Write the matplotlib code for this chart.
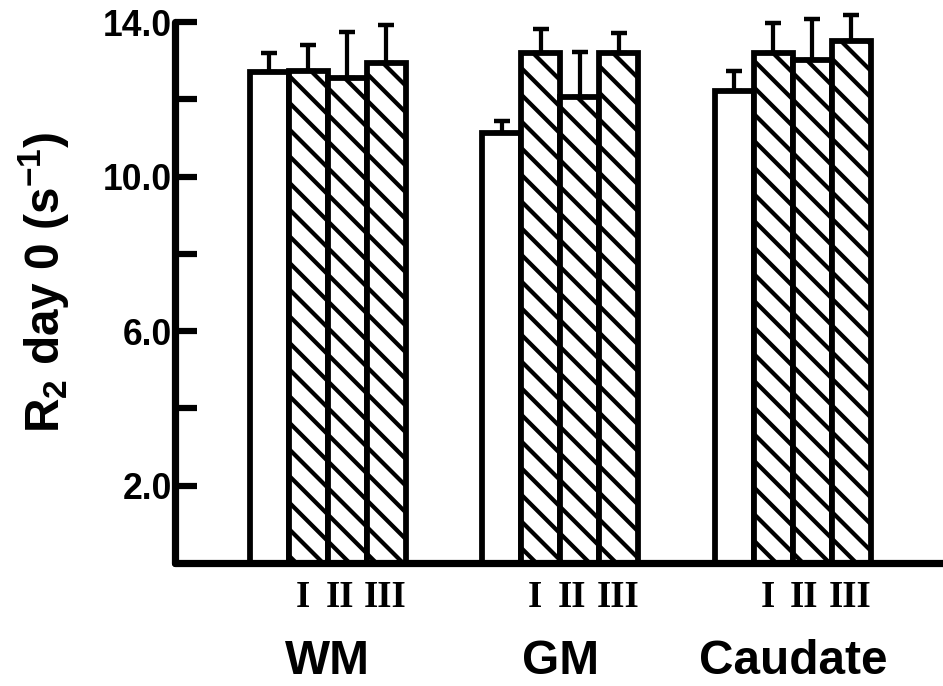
import matplotlib
matplotlib.use("Agg")
import matplotlib.pyplot as plt
from matplotlib import font_manager
import numpy as np

# ---- data ----
regions = ["WM", "GM", "Caudate"]
subgroups = ["I", "II", "III"]
control = [12.70, 11.13, 12.22]
control_err = [0.50, 0.31, 0.51]
group_I = [12.73, 13.20, 13.20]
group_I_err = [0.67, 0.62, 0.77]
group_II = [12.55, 12.06, 13.02]
group_II_err = [1.19, 1.16, 1.06]
group_III = [12.94, 13.20, 13.51]
group_III_err = [0.98, 0.51, 0.67]
ytick_vals = [2, 4, 6, 8, 10, 12, 14]
ytick_labels = ["2.0", "", "6.0", "", "10.0", "", "14.0"]

names = {f.name for f in font_manager.fontManager.ttflist}
tick_family = "Liberation Sans Narrow" if "Liberation Sans Narrow" in names else "Liberation Sans"

plt.rcParams["font.family"] = ["Liberation Sans", "DejaVu Sans"]
plt.rcParams["font.weight"] = "bold"
plt.rcParams["mathtext.fontset"] = "custom"
plt.rcParams["mathtext.rm"] = "Liberation Sans:bold"
plt.rcParams["mathtext.bf"] = "Liberation Sans:bold"
plt.rcParams["mathtext.default"] = "bf"
plt.rcParams["hatch.linewidth"] = 3.8

DPI = 80
fig = plt.figure(figsize=(943 / DPI, 686 / DPI), dpi=DPI)
fig.patch.set_facecolor("white")
ax = fig.add_axes([175 / 943, 123 / 686, (943 - 175) / 943, 560.3 / 686])

bar_w = 1.0
first_start = 1.92
group_step = 5.96
series = [control, group_I, group_II, group_III]
errs = [control_err, group_I_err, group_II_err, group_III_err]
hatches = [None, "\\", "\\", "\\"]
label_shift = [0.0, -0.15, -0.2, -0.03]

xtick_pos = []
xtick_lab = []
for i, (vals, ev, h) in enumerate(zip(series, errs, hatches)):
    xs = np.array([first_start + group_step * g + 0.5 + i for g in range(len(regions))])
    ax.errorbar(xs, vals, yerr=[np.zeros(len(ev)), ev], fmt="none", ecolor="black",
                elinewidth=3.8, capsize=7, capthick=4.0, zorder=1)
    ax.bar(xs, vals, width=bar_w, facecolor="white", edgecolor="black",
           linewidth=5.2, hatch=h, zorder=2)
    if i > 0:
        xtick_pos.extend((xs + label_shift[i]).tolist())
        xtick_lab.extend([subgroups[i - 1]] * len(xs))

ax.set_xlim(0, (943 - 175) / 39.0)
ax.set_ylim(0, 14.5)

for s in ["top", "right"]:
    ax.spines[s].set_visible(False)
ax.spines["left"].set_bounds(0, 14)
ax.spines["left"].set_linewidth(6.5)
ax.spines["bottom"].set_linewidth(6.5)
ax.spines["left"].set_capstyle("round")
ax.spines["bottom"].set_capstyle("round")

ax.set_yticks(ytick_vals)
ax.set_yticklabels(ytick_labels, family=tick_family, fontweight="bold", fontsize=32)
ax.tick_params(axis="y", direction="in", length=20, width=5.6, pad=3)

ax.set_xticks(xtick_pos)
ax.set_xticklabels(xtick_lab, family="Liberation Serif", fontweight="bold", fontsize=33)
ax.tick_params(axis="x", length=0, pad=15)

for g, name in enumerate(regions):
    cx = first_start + group_step * g + 2.0
    ax.text(cx, -0.175, name, transform=ax.get_xaxis_transform(), ha="center", va="center",
            fontsize=43, fontweight="bold")

fig.text(44 / 943, 1 - 282 / 686, r"R$_2$ day 0 (s$^{-1}$)", rotation=90,
         ha="center", va="center", fontsize=43, fontweight="bold")

fig.savefig("out.png", dpi=DPI, facecolor="white")
